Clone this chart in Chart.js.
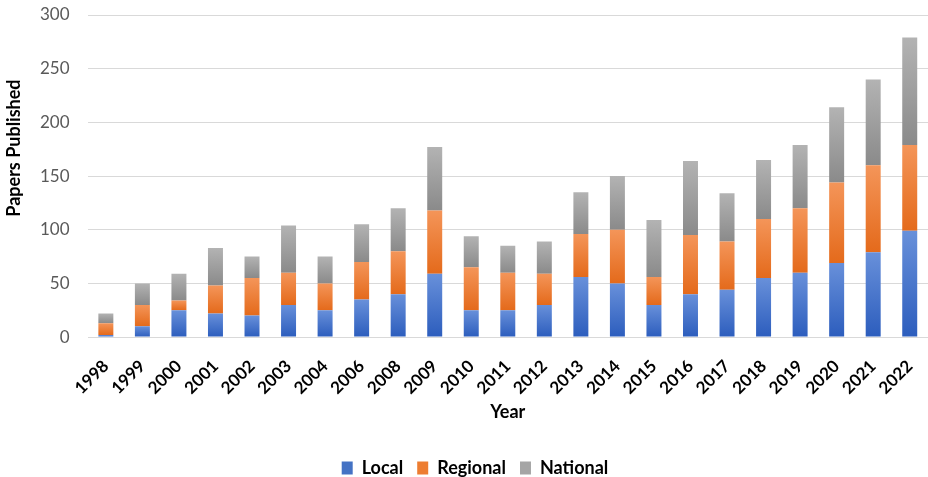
<!DOCTYPE html>
<html>
<head>
<meta charset="utf-8">
<script src="https://cdn.jsdelivr.net/npm/chart.js@4/dist/chart.umd.min.js"></script>
<style>
html,body{margin:0;padding:0;background:#fff;}
#wrap{width:928px;height:477px;}
</style>
</head>
<body>
<div id="wrap"><canvas id="c" width="928" height="477"></canvas></div>
<script>
const years = ['1998','1999','2000','2001','2002','2003','2004','2006','2008','2009','2010','2011','2012','2013','2014','2015','2016','2017','2018','2019','2020','2021','2022'];
const local    = [2,10,25,22,20,30,25,35,40,59,25,25,30,56,50,30,40,44,55,60,69,79,99];
const regional = [11,20,9,26,35,30,25,35,40,59,40,35,29,40,50,26,55,45,55,60,75,81,80];
const national = [9,20,25,35,20,44,25,35,40,59,29,25,30,39,50,53,69,45,55,59,70,80,100];
const seriesNames = ['Local','Regional','National'];
const yTicks = [0,50,100,150,200,250,300];
const yTitle = 'Papers Published';

const series = [local, regional, national];
const grads = [['#6890da','#2c5dbd'], ['#f49559','#e46a1b'], ['#b3b3b3','#8a8a8a']];
const solid = ['#4472c4','#ed7d31','#a5a5a5'];
const titleFont = { family: 'Lato', size: 18, weight: 'bold' };

function fill(ctx){
  const i = ctx.datasetIndex, j = ctx.dataIndex;
  const chart = ctx.chart, ys = chart.scales && chart.scales.y;
  if (j === undefined || !ys || ys.top === undefined) return solid[i];
  let base = 0;
  for (let k = 0; k < i; k++) base += series[k][j];
  const top = base + series[i][j];
  const y0 = ys.getPixelForValue(top), y1 = ys.getPixelForValue(base);
  if (!isFinite(y0) || !isFinite(y1) || y0 === y1) return solid[i];
  const g = chart.ctx.createLinearGradient(0, y0, 0, y1);
  g.addColorStop(0, grads[i][0]);
  g.addColorStop(1, grads[i][1]);
  return g;
}

// y-axis title drawn a little above the plot centre, like the original
const yTitlePlugin = {
  id: 'yTitle',
  afterDraw(chart) {
    const ys = chart.scales.y, ca = chart.chartArea, c = chart.ctx;
    c.save();
    c.font = 'bold 18px Lato';
    c.fillStyle = '#000';
    c.textAlign = 'center';
    c.textBaseline = 'middle';
    c.translate(ys.left - 8, (ca.top + ca.bottom) / 2 - 28);
    c.rotate(-Math.PI / 2);
    c.fillText(yTitle, 0, 0);
    c.restore();
  }
};

new Chart(document.getElementById('c'), {
  type: 'bar',
  data: {
    labels: years,
    datasets: series.map((d, i) => ({
      label: seriesNames[i],
      data: d,
      backgroundColor: fill,
      borderWidth: 0,
      barPercentage: 0.41,
      categoryPercentage: 1.0
    }))
  },
  options: {
    responsive: false,
    animation: false,
    layout: { padding: { top: 15, right: 0, left: 22, bottom: -10 } },
    plugins: {
      tooltip: { enabled: false },
      legend: {
        position: 'bottom',
        labels: {
          generateLabels: (chart) => seriesNames.map((n, i) => ({
            text: n, fillStyle: solid[i], strokeStyle: solid[i], lineWidth: 0, datasetIndex: i, fontColor: '#000'
          })),
          boxWidth: 11, boxHeight: 13, padding: 14,
          color: '#000',
          font: { family: 'Lato', size: 18, weight: 'bold' }
        }
      }
    },
    scales: {
      x: {
        stacked: true,
        afterFit: (s) => { s.paddingLeft = 0; s.paddingRight = 0; },
        grid: { display: false },
        border: { display: false },
        ticks: {
          autoSkip: false, maxRotation: 45, minRotation: 45,
          color: '#000', padding: 11,
          font: { family: 'Lato', size: 17, weight: 'bold' }
        },
        title: {
          display: true, text: 'Year', color: '#000',
          font: titleFont,
          padding: { top: -8, bottom: 22 }
        }
      },
      y: {
        stacked: true,
        min: 0, max: 300,
        afterBuildTicks: (axis) => { axis.ticks = yTicks.map(v => ({ value: v })); },
        afterFit: (s) => { s.paddingTop = 0; s.paddingBottom = 0; },
        grid: { color: '#d9d9d9', lineWidth: 1, drawTicks: false },
        border: { display: false },
        ticks: {
          color: '#595959', padding: 18,
          font: { family: 'Lato', size: 17 }
        }
      }
    }
  },
  plugins: [yTitlePlugin]
});
</script>
</body>
</html>
